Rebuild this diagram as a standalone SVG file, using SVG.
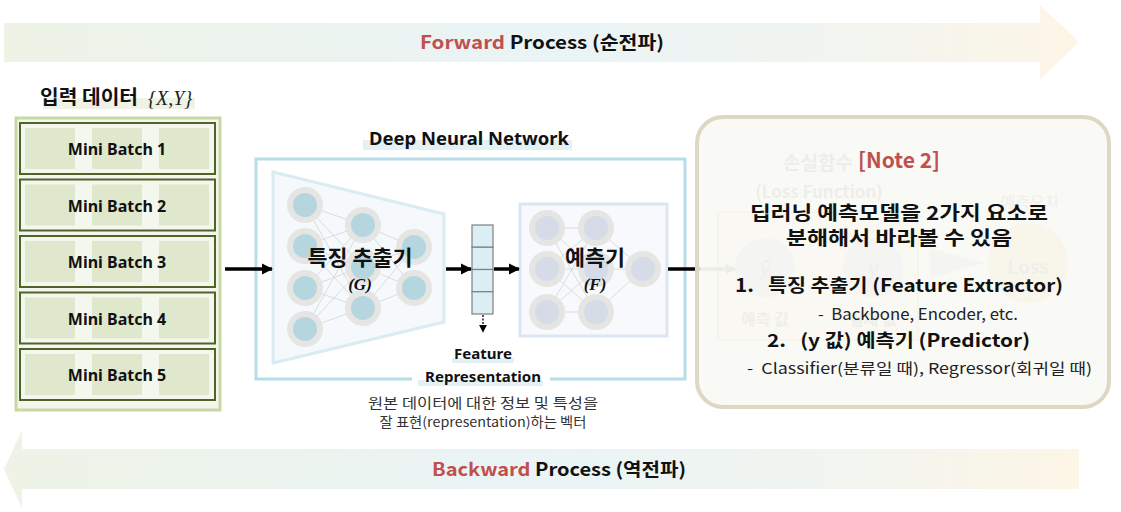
<svg xmlns="http://www.w3.org/2000/svg" width="1121" height="512" viewBox="0 0 1121 512">
<defs>
  <linearGradient id="bandGrad" x1="0" y1="0" x2="1" y2="0">
    <stop offset="0" stop-color="#eef3e6"/>
    <stop offset="0.5" stop-color="#eaf4f6"/>
    <stop offset="0.8" stop-color="#f2f4ef"/>
    <stop offset="1" stop-color="#fdf6e6"/>
  </linearGradient>
  <marker id="ah" viewBox="0 0 10 10" refX="9" refY="5" markerWidth="3.2" markerHeight="3.2" orient="auto" markerUnits="strokeWidth">
    <path d="M0,0 L10,5 L0,10 z" fill="#000"/>
  </marker>
  <marker id="ahs" viewBox="0 0 10 10" refX="9" refY="5" markerWidth="6" markerHeight="6" orient="auto" markerUnits="strokeWidth">
    <path d="M0,0 L10,5 L0,10 z" fill="#000"/>
  </marker>
  <marker id="ahf" viewBox="0 0 10 10" refX="9" refY="5" markerWidth="3" markerHeight="3" orient="auto" markerUnits="strokeWidth">
    <path d="M0,0 L10,5 L0,10 z" fill="#bdbdbd"/>
  </marker>
  <style>
    .kr { font-family: "Noto Sans CJK KR", "Noto Sans", sans-serif; }
    .b { font-weight: bold; }
    .pre { white-space: pre; }
    .batch { fill: #f4f7ee; stroke: #4f6228; stroke-width: 2; }
    .cell { fill: #dfe8cc; }
    .bt { font-family: "Noto Sans", "Noto Sans CJK KR", sans-serif; font-weight: bold; font-size: 16px; fill: #111; text-anchor: middle; }
    .ring { fill: #e5e5e3; }
    .inG { fill: #b5d6df; }
    .inF { fill: #d5dce8; }
    .nl { stroke: #cfcfcf; stroke-width: 0.7; fill: none; }
    .math { font-family: "Liberation Serif", "DejaVu Serif", serif; font-style: italic; }
  </style>
</defs>

<!-- Forward band -->
<g id="forward">
  <path d="M4,23 H1040 V5 L1079,42 L1040,80 V62 H4 Z" fill="url(#bandGrad)"/>
  <text class="kr b" x="542" y="49" font-size="18" text-anchor="middle" textLength="244" lengthAdjust="spacingAndGlyphs"><tspan fill="#c0504d">Forward</tspan><tspan fill="#111"> Process (순전파)</tspan></text>
</g>

<!-- Backward band -->
<g id="backward">
  <path d="M1079,449 H22 V430 L4,469 L22,508 V489 H1079 Z" fill="url(#bandGrad)"/>
  <text class="kr b" x="559" y="476" font-size="18" text-anchor="middle" textLength="254" lengthAdjust="spacingAndGlyphs"><tspan fill="#c0504d">Backward</tspan><tspan fill="#111"> Process (역전파)</tspan></text>
</g>

<!-- Input data -->
<g id="input">
  <rect x="43" y="98" width="152" height="11" fill="#eef3e6"/>
  <text class="kr b" x="40" y="104" font-size="19" fill="#111" textLength="98" lengthAdjust="spacingAndGlyphs">입력 데이터</text>
  <text class="math" x="148" y="105" font-size="20" fill="#222">{X,Y}</text>
  <rect x="16" y="118" width="204" height="292" fill="#f3f6ec" stroke="#c6d9a2" stroke-width="3"/>
</g>

<g id="batch1">
  <rect class="batch" x="20" y="123" width="195" height="51"/>
  <rect class="cell" x="25" y="128" width="50" height="41"/><rect class="cell" x="92" y="128" width="50" height="41"/><rect class="cell" x="159" y="128" width="50" height="41"/>
  <text class="bt" x="117" y="155">Mini Batch 1</text>
</g>
<g id="batch2">
  <rect class="batch" x="20" y="179.5" width="195" height="51"/>
  <rect class="cell" x="25" y="184.5" width="50" height="41"/><rect class="cell" x="92" y="184.5" width="50" height="41"/><rect class="cell" x="159" y="184.5" width="50" height="41"/>
  <text class="bt" x="117" y="211.5">Mini Batch 2</text>
</g>
<g id="batch3">
  <rect class="batch" x="20" y="236" width="195" height="51"/>
  <rect class="cell" x="25" y="241" width="50" height="41"/><rect class="cell" x="92" y="241" width="50" height="41"/><rect class="cell" x="159" y="241" width="50" height="41"/>
  <text class="bt" x="117" y="268">Mini Batch 3</text>
</g>
<g id="batch4">
  <rect class="batch" x="20" y="292.5" width="195" height="51"/>
  <rect class="cell" x="25" y="297.5" width="50" height="41"/><rect class="cell" x="92" y="297.5" width="50" height="41"/><rect class="cell" x="159" y="297.5" width="50" height="41"/>
  <text class="bt" x="117" y="324.5">Mini Batch 4</text>
</g>
<g id="batch5">
  <rect class="batch" x="20" y="349" width="195" height="51"/>
  <rect class="cell" x="25" y="354" width="50" height="41"/><rect class="cell" x="92" y="354" width="50" height="41"/><rect class="cell" x="159" y="354" width="50" height="41"/>
  <text class="bt" x="117" y="381">Mini Batch 5</text>
</g>

<!-- DNN container -->
<g id="dnn">
  <rect x="363" y="140" width="209" height="10" fill="#e3f0f4"/>
  <text x="469" y="145" font-family="Noto Sans, sans-serif" font-weight="bold" font-size="18" fill="#111" text-anchor="middle" textLength="200" lengthAdjust="spacingAndGlyphs">Deep Neural Network</text>
  <path d="M412,379 H256 V159 H685 V379 H550" fill="none" stroke="#b7dde8" stroke-width="3"/>
</g>

<!-- Feature extractor -->
<g id="extractor">
  <path d="M273,172 L444,214 L444,322 L273,363 Z" fill="#f6f9fb" stroke="#d9ecf2" stroke-width="3"/>
  <g class="nl">
    <path d="M305,205 L363,225 M305,205 L363,267 M305,205 L363,308 M305,246 L363,225 M305,246 L363,267 M305,246 L363,308 M305,288 L363,225 M305,288 L363,267 M305,288 L363,308 M305,329 L363,225 M305,329 L363,267 M305,329 L363,308 M363,225 L414,247 M363,225 L414,288 M363,267 L414,247 M363,267 L414,288 M363,308 L414,247 M363,308 L414,288"/>
  </g>
  <circle class="ring" cx="305" cy="205" r="18"/><circle class="inG" cx="305" cy="205" r="12"/>
  <circle class="ring" cx="305" cy="246" r="18"/><circle class="inG" cx="305" cy="246" r="12"/>
  <circle class="ring" cx="305" cy="288" r="18"/><circle class="inG" cx="305" cy="288" r="12"/>
  <circle class="ring" cx="305" cy="329" r="18"/><circle class="inG" cx="305" cy="329" r="12"/>
  <circle class="ring" cx="363" cy="225" r="18"/><circle class="inG" cx="363" cy="225" r="12"/>
  <circle class="ring" cx="363" cy="267" r="18"/><circle class="inG" cx="363" cy="267" r="12"/>
  <circle class="ring" cx="363" cy="308" r="18"/><circle class="inG" cx="363" cy="308" r="12"/>
  <circle class="ring" cx="414" cy="247" r="18"/><circle class="inG" cx="414" cy="247" r="12"/>
  <circle class="ring" cx="414" cy="288" r="18"/><circle class="inG" cx="414" cy="288" r="12"/>
  <text class="kr b" x="360" y="265" font-size="21" fill="#111" text-anchor="middle" textLength="105" lengthAdjust="spacingAndGlyphs">특징 추출기</text>
  <text class="math b" x="360" y="290" font-size="17" fill="#111" text-anchor="middle">(G)</text>
</g>

<!-- Feature vector -->
<g id="vector">
  <rect x="472" y="225" width="21" height="22.25" fill="#daeef3" stroke="#808080" stroke-width="1.2"/>
  <rect x="472" y="247.25" width="21" height="22.25" fill="#daeef3" stroke="#808080" stroke-width="1.2"/>
  <rect x="472" y="269.5" width="21" height="22.25" fill="#daeef3" stroke="#808080" stroke-width="1.2"/>
  <rect x="472" y="291.75" width="21" height="22.25" fill="#daeef3" stroke="#808080" stroke-width="1.2"/>
</g>

<!-- Predictor -->
<g id="predictor">
  <rect x="520" y="204" width="147" height="132" fill="#f7f9fc" stroke="#dce6f2" stroke-width="3"/>
  <g class="nl">
    <path d="M547,228 L596,228 M547,228 L596,269 M547,228 L596,312 M547,269 L596,228 M547,269 L596,269 M547,269 L596,312 M547,312 L596,228 M547,312 L596,269 M547,312 L596,312 M596,228 L643,269 M596,269 L643,269 M596,312 L643,269"/>
  </g>
  <circle class="ring" cx="547" cy="228" r="18"/><circle class="inF" cx="547" cy="228" r="12"/>
  <circle class="ring" cx="547" cy="269" r="18"/><circle class="inF" cx="547" cy="269" r="12"/>
  <circle class="ring" cx="547" cy="312" r="18"/><circle class="inF" cx="547" cy="312" r="12"/>
  <circle class="ring" cx="596" cy="228" r="18"/><circle class="inF" cx="596" cy="228" r="12"/>
  <circle class="ring" cx="596" cy="269" r="18"/><circle class="inF" cx="596" cy="269" r="12"/>
  <circle class="ring" cx="596" cy="312" r="18"/><circle class="inF" cx="596" cy="312" r="12"/>
  <circle class="ring" cx="643" cy="269" r="18"/><circle class="inF" cx="643" cy="269" r="12"/>
  <text class="kr b" x="595" y="265" font-size="21" fill="#111" text-anchor="middle" textLength="60" lengthAdjust="spacingAndGlyphs">예측기</text>
  <text class="math b" x="595" y="290" font-size="17" fill="#111" text-anchor="middle">(F)</text>
</g>

<!-- Feature representation label -->
<g id="featlabel">
  <rect x="452" y="358" width="62" height="5" fill="#e3f0f4"/>
  <rect x="418" y="380" width="125" height="6" fill="#e3f0f4"/>
  <text x="483" y="359" font-family="Noto Sans, sans-serif" font-weight="bold" font-size="15" fill="#111" text-anchor="middle" textLength="58" lengthAdjust="spacingAndGlyphs">Feature</text>
  <text x="483" y="382" font-family="Noto Sans, sans-serif" font-weight="bold" font-size="15" fill="#111" text-anchor="middle" textLength="116" lengthAdjust="spacingAndGlyphs">Representation</text>
  <text class="kr" x="483" y="408" font-size="13.5" fill="#333" text-anchor="middle" textLength="230" lengthAdjust="spacingAndGlyphs">원본 데이터에 대한 정보 및 특성을</text>
  <text class="kr" x="483" y="427" font-size="13.5" fill="#333" text-anchor="middle" textLength="207" lengthAdjust="spacingAndGlyphs">잘 표현(representation)하는 벡터</text>
</g>

<!-- Faint loss diagram behind Note 2 -->
<g id="lossfaint">
  <rect x="718" y="212" width="200" height="128" fill="#fdf8ea" stroke="#f1e8cc" stroke-width="2"/>
  <circle cx="765" cy="268" r="30" fill="#e4e9f1"/>
  <circle cx="873" cy="268" r="30" fill="#e4e9f1"/>
  <circle cx="1028" cy="263" r="40" fill="#fbeec6"/>
  <path d="M930,248 L985,263 L930,278 Z" fill="#e6e6e6"/>
  <text class="kr b" x="818" y="170" font-size="19" fill="#c4c4c4" text-anchor="middle">손실함수</text>
  <text class="kr b" x="819" y="198" font-size="17" fill="#c4c4c4" text-anchor="middle">(Loss Function)</text>
  <text class="kr" x="1030" y="208" font-size="16" fill="#c8c8c8" text-anchor="middle">예측오차</text>
  <text class="kr b" x="1028" y="274" font-size="19" fill="#c8c8c8" text-anchor="middle">Loss</text>
  <text class="math" x="765" y="276" font-size="24" fill="#c4c4c4" text-anchor="middle">ŷ</text>
  <text class="math" x="873" y="276" font-size="24" fill="#c4c4c4" text-anchor="middle">y</text>
  <text class="kr b" x="765" y="325" font-size="16" fill="#c8c8c8" text-anchor="middle">예측 값</text>
  <text class="kr b" x="873" y="325" font-size="16" fill="#c8c8c8" text-anchor="middle">실제 값</text>
</g>

<!-- Connectors -->
<g id="connectors" fill="none" stroke="#000">
  <line x1="225" y1="269" x2="272" y2="269" stroke-width="3.5" marker-end="url(#ah)"/>
  <line x1="446" y1="269" x2="471" y2="269" stroke-width="3.5" marker-end="url(#ah)"/>
  <line x1="494" y1="269" x2="519" y2="269" stroke-width="3.5" marker-end="url(#ah)"/>
  <line x1="483" y1="315" x2="483" y2="332" stroke-width="1.3" stroke-dasharray="2,1.5" marker-end="url(#ahs)"/>
  <line x1="668" y1="269" x2="700" y2="269" stroke-width="3.5"/>
  <line x1="700" y1="269" x2="735" y2="269" stroke="#bdbdbd" stroke-width="3.5" marker-end="url(#ahf)"/>
</g>

<g id="note2">
  <rect x="697" y="117" width="412" height="290" rx="26" ry="26" fill="#f8f8f4" fill-opacity="0.8" stroke="#ddd8c2" stroke-width="4"/>
  <text class="kr b" x="899" y="168" font-size="21" fill="#c0504d" text-anchor="middle">[Note 2]</text>
  <text class="kr b" x="899" y="220" font-size="19" fill="#111" text-anchor="middle" textLength="298" lengthAdjust="spacingAndGlyphs">딥러닝 예측모델을 2가지 요소로</text>
  <text class="kr b" x="899" y="245" font-size="19" fill="#111" text-anchor="middle" textLength="226" lengthAdjust="spacingAndGlyphs">분해해서 바라볼 수 있음</text>
  <text class="kr b pre" x="735" y="292" font-size="18" fill="#111" textLength="328" lengthAdjust="spacingAndGlyphs" xml:space="preserve">1.   특징 추출기 (Feature Extractor)</text>
  <text class="kr pre" x="818" y="320" font-size="15.5" fill="#222" textLength="200" lengthAdjust="spacingAndGlyphs" xml:space="preserve">-  Backbone, Encoder, etc.</text>
  <text class="kr b pre" x="767" y="347" font-size="18" fill="#111" textLength="263" lengthAdjust="spacingAndGlyphs" xml:space="preserve">2.   (y 값) 예측기 (Predictor)</text>
  <text class="kr pre" x="747" y="374" font-size="15" fill="#222" textLength="345" lengthAdjust="spacingAndGlyphs" xml:space="preserve">-  Classifier(분류일 때), Regressor(회귀일 때)</text>
</g>
</svg>
